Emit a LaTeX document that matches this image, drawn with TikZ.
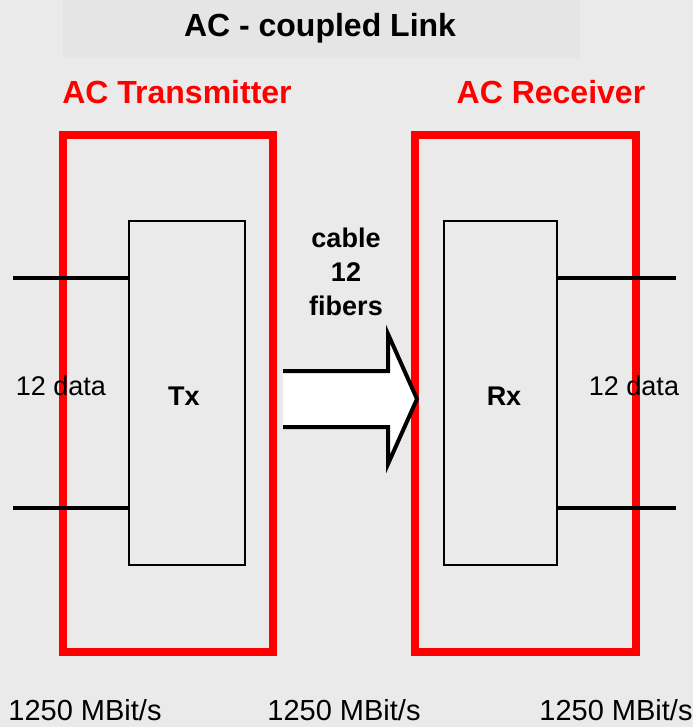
\documentclass[tikz,border=0pt]{standalone}
\usepackage{fontspec}
\setmainfont{Liberation Sans}
\usetikzlibrary{positioning}
\definecolor{bgray}{HTML}{EAEAEA}
\definecolor{tgray}{HTML}{E5E5E5}
\tikzset{
    unit box/.style={rectangle, draw=red, line width=8pt, minimum width=210pt, minimum height=517pt, inner sep=0pt},
    chip box/.style={rectangle, draw=black, line width=1.5pt, minimum width=116pt, minimum height=344pt, inner sep=0pt},
    unit label/.style={text=red, font=\fontsize{32}{36}\selectfont\bfseries, inner sep=0pt},
    plain label/.style={font=\fontsize{27}{30}\selectfont, inner sep=0pt},
    rate label/.style={font=\fontsize{29}{32}\selectfont, inner sep=0pt},
    data line/.style={draw, line width=4pt},
    fiber arrow/.style={draw=black, fill=white, line width=4pt}
}
\begin{document}
\begin{tikzpicture}[x=1pt, y=-1pt]
    \useasboundingbox[fill=bgray] (0,0) rectangle (693,727);
    \fill[tgray] (63,0) rectangle (580,58);
    \node[font=\fontsize{32}{36}\selectfont\bfseries, inner sep=0pt] (title) at (320,28) {AC - coupled Link};
    % the two units
    \node[unit box] (txunit) at (168,393.5) {};
    \node[unit box, minimum width=221pt] (rxunit) at (525.5,393.5) {};
    \node[unit label] (txlabel) at (177,92) {AC Transmitter};
    \node[unit label] (rxlabel) at (551,92) {AC Receiver};
    \node[chip box] (tx) at (187,393) {};
    \node[chip box, minimum width=113pt] (rx) at (500.5,393) {};
    \node[font=\fontsize{27}{30}\selectfont\bfseries, inner sep=0pt] (txname) at (184,396) {Tx};
    \node[font=\fontsize{27}{30}\selectfont\bfseries, inner sep=0pt] (rxname) at (504,396) {Rx};
    % data lines
    \coordinate (tl1) at (13,278);
    \coordinate (tl2) at (13,508);
    \coordinate (rl1) at (676,278);
    \coordinate (rl2) at (676,508);
    \draw[data line] (tl1) -- (tx.west |- tl1);
    \draw[data line] (tl2) -- (tx.west |- tl2);
    \draw[data line] (rx.east |- rl1) -- (rl1);
    \draw[data line] (rx.east |- rl2) -- (rl2);
    \node[plain label] (txdata) at (61,386) {12 data};
    \node[plain label] (rxdata) at (634,386) {12 data};
    % cable
    \node[font=\fontsize{27}{34}\selectfont\bfseries, align=center, inner sep=0pt] (cable) at (346,272) {cable\\12\\fibers};
    \coordinate (tip) at (417,399);
    \path[fiber arrow] (283,371) -- (388,371) -- (388,334) -- (tip) -- (388,464) -- (388,427) -- (283,427);
    % rates
    \node[rate label] (rate1) at (85,710) {1250 MBit/s};
    \node[rate label] (rate2) at (344,710) {1250 MBit/s};
    \node[rate label] (rate3) at (616,710) {1250 MBit/s};
\end{tikzpicture}
\end{document}
